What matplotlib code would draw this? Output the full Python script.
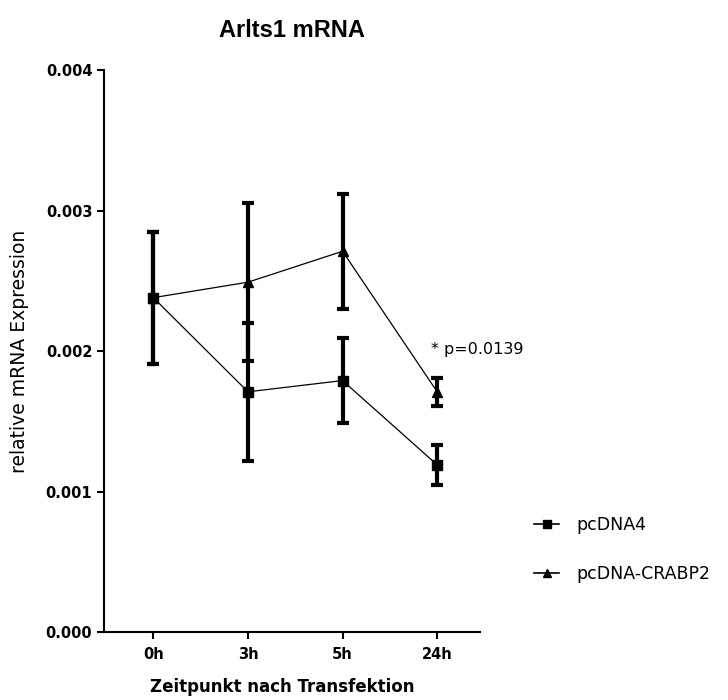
import numpy as np
import matplotlib.pyplot as plt
from matplotlib.lines import Line2D

plt.rcParams['font.family'] = ['Liberation Sans', 'DejaVu Sans']

# Zeitpunkte und Mittelwerte / Standardabweichungen
zeitpunkte = ["0h", "3h", "5h", "24h"]
pcdna4_mw = [0.00238, 0.00171, 0.00179, 0.00119]
pcdna4_sd = [0.00047, 0.00049, 0.00030, 0.00014]
crabp2_mw = [0.00238, 0.00249, 0.00271, 0.00171]
crabp2_sd = [0.00047, 0.00056, 0.00041, 0.00010]
p_text = "* p=0.0139"

x = np.arange(len(zeitpunkte))

fig = plt.figure(figsize=(7.28, 7.0), dpi=100)
ax = fig.add_axes([0.143, 0.097, 0.516, 0.803])

ax.errorbar(x, pcdna4_mw, yerr=pcdna4_sd, color='black', lw=0.9,
            marker='s', markersize=7, elinewidth=3, capsize=4.5, capthick=3)
ax.errorbar(x, crabp2_mw, yerr=crabp2_sd, color='black', lw=0.9,
            marker='^', markersize=6.5, elinewidth=3, capsize=4.5, capthick=3)

# Signifikanz am 24h-Punkt
ax.text(2.935, 0.00201, p_text, fontsize=11.5, va='center', ha='left',
        family='DejaVu Sans')

ax.set_xlim(-0.52, 3.45)
ax.set_ylim(0, 0.004)
ax.set_yticks([0, 0.001, 0.002, 0.003, 0.004])
ax.set_yticklabels(["0.000", "0.001", "0.002", "0.003", "0.004"])
ax.set_xticks(x)
ax.set_xticklabels(zeitpunkte)
for lab in ax.get_xticklabels() + ax.get_yticklabels():
    lab.set_fontweight('bold')
    lab.set_fontsize(10.5)
    lab.set_family('DejaVu Sans')

ax.spines['top'].set_visible(False)
ax.spines['right'].set_visible(False)
ax.spines['left'].set_linewidth(1.5)
ax.spines['bottom'].set_linewidth(1.5)
ax.tick_params(direction='out', length=5, width=1.5)
ax.tick_params(axis='x', pad=6)

ax.set_title("Arlts1 mRNA", fontsize=17, fontweight='bold', pad=24)
ax.set_xlabel("Zeitpunkt nach Transfektion", fontsize=12, fontweight='bold',
              family='DejaVu Sans')
ax.xaxis.set_label_coords(0.475, -0.082)
ax.set_ylabel("relative mRNA Expression", fontsize=13.5, family='DejaVu Sans')
ax.yaxis.set_label_coords(-0.2, 0.5)

# Legende nur mit Linie und Symbol
handles = [Line2D([], [], color='black', lw=1.2, marker='s', markersize=6),
           Line2D([], [], color='black', lw=1.2, marker='^', markersize=6)]
labels = ['pcDNA4', 'pcDNA-CRABP2']
fig.legend(handles, labels, loc='center left', bbox_to_anchor=(0.712, 0.215),
           frameon=False, prop={'family': 'DejaVu Sans', 'size': 12.5},
           labelspacing=1.75, handlelength=1.45, handletextpad=1.0)

fig.savefig("out.png", dpi=100)
